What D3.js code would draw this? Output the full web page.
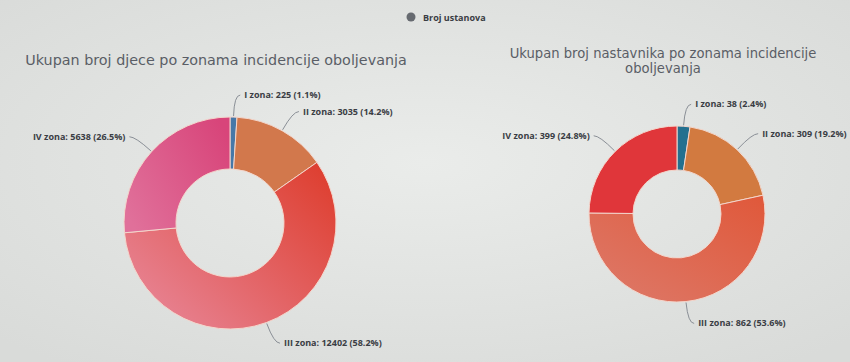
<!DOCTYPE html>
<html><head><meta charset="utf-8">
<script src="https://cdn.jsdelivr.net/npm/d3@7"></script>
<style>
html,body{margin:0;padding:0;background:#e3e5e3;}
svg{display:block;font-family:"Open Sans","DejaVu Sans",sans-serif;}
</style></head>
<body>
<script>
const categories = ["I zona", "II zona", "III zona", "IV zona"];
const childrenValues = [225, 3035, 12402, 5638];
const teacherValues = [38, 309, 862, 399];
const legendLabel = "Broj ustanova";
const titleChildren = ["Ukupan broj djece po zonama incidencije oboljevanja"];
const titleTeachers = ["Ukupan broj nastavnika po zonama incidencije", "oboljevanja"];

const W = 850, H = 362;
const svg = d3.select("body").append("svg").attr("width", W).attr("height", H);
const defs = svg.append("defs");

const bg = defs.append("radialGradient").attr("id","bg").attr("cx","50%").attr("cy","45%").attr("r","70%");
bg.append("stop").attr("offset","0%").attr("stop-color","#eaecea");
bg.append("stop").attr("offset","100%").attr("stop-color","#d9dbd9");
svg.append("rect").attr("width",W).attr("height",H).attr("fill","url(#bg)");

function grad(id, c1, c2, x1, y1, x2, y2){
  const g = defs.append("linearGradient").attr("id", id)
    .attr("x1",x1).attr("y1",y1).attr("x2",x2).attr("y2",y2);
  g.append("stop").attr("offset","0%").attr("stop-color",c1);
  g.append("stop").attr("offset","100%").attr("stop-color",c2);
  return "url(#"+id+")";
}
const leftColors = ["#4678a8", "#d2784c", grad("l3","#de3f30","#e8889a","100%","10%","0%","90%"), grad("l4","#d8457a","#e0709a","100%","20%","0%","80%")];
const rightColors = ["#23708f", "#d27a40", grad("r3","#e0583a","#dd7a6a","100%","0%","0%","100%"), "#e0363a"];

const leg = svg.append("g").attr("transform","translate(411,17)");
leg.append("circle").attr("r",4.5).attr("fill","#666a70");
leg.append("text").attr("x",12).attr("y",3.5).attr("font-size",9).attr("font-weight","bold")
  .attr("fill","#3a3d44").text(legendLabel);

function donut(values, colors, cx, cy, rOuter, rInner, titleLines, titleX, titleY, titleWidth, lineGap){
  const total = d3.sum(values);
  const g = svg.append("g").attr("transform",`translate(${cx},${cy})`);
  const pie = d3.pie().sort(null).value(d => d.v);
  const data = pie(values.map((v,i) => ({v, name: categories[i], i})));
  const arc = d3.arc().innerRadius(rInner).outerRadius(rOuter);
  g.selectAll("path.slice").data(data).join("path").attr("class","slice")
    .attr("d", arc).attr("fill", d => colors[d.data.i])
    .attr("stroke","#f3d6cc").attr("stroke-width",1);

  data.forEach(d => {
    const a = (d.startAngle + d.endAngle)/2;
    const s = Math.sin(a), c = Math.cos(a);
    const p0 = [s*(rOuter+1), -c*(rOuter+1)];
    const p1 = [s*(rOuter+22), -c*(rOuter+22)];
    const right = s >= 0;
    const p2 = [p1[0] + (right ? 6 : -6), p1[1]];
    g.append("path")
      .attr("d", `M${p0[0]},${p0[1]} Q${p1[0]},${p1[1]} ${p2[0]},${p2[1]}`)
      .attr("fill","none").attr("stroke","#8a8f96").attr("stroke-width",1);
    const pct = (d.data.v/total*100).toFixed(1);
    g.append("text")
      .attr("x", p2[0] + (right ? 4 : -4)).attr("y", p2[1] + 3)
      .attr("text-anchor", right ? "start" : "end")
      .attr("font-size", 9).attr("font-weight","bold").attr("fill","#3a3d44")
      .text(`${d.data.name}: ${d.data.v} (${pct}%)`);
  });

  // title in a Lucida-like face, size fitted to the first line's width
  const probe = svg.append("text").attr("font-family","DejaVu Sans").attr("font-size",13).text(titleLines[0]);
  const size = 13 * titleWidth / probe.node().getComputedTextLength();
  probe.remove();
  titleLines.forEach((line, i) => {
    svg.append("text").attr("x", titleX).attr("y", titleY + i*lineGap)
      .attr("text-anchor","middle").attr("font-family","DejaVu Sans")
      .attr("font-size",size).attr("fill","#5a5e66")
      .text(line);
  });
}

donut(childrenValues, leftColors, 230, 223, 106, 54, titleChildren, 216, 65, 382, 0);
donut(teacherValues, rightColors, 677, 214, 88, 44, titleTeachers, 663, 58, 307, 15);
</script>
</body></html>
